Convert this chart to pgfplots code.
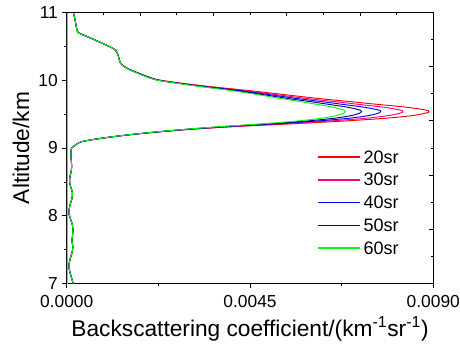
\documentclass[border=0pt]{standalone}
\usepackage{fontspec}
\setmainfont{Liberation Sans}
\usepackage{pgfplots}
\pgfplotsset{compat=1.18}
\usepackage{pgfplotstable}

\definecolor{cred}{RGB}{255,0,0}
\definecolor{cpink}{RGB}{255,0,128}
\definecolor{cblue}{RGB}{0,0,255}
\definecolor{cnavy}{RGB}{0,0,139}
\definecolor{cgreen}{RGB}{0,255,0}

% common lower part (7.0 - 9.12 km)
\pgfplotstableread{
x alt
0.00016 7.00
0.00013 7.06
0.00009 7.14
0.00006 7.22
0.00006 7.30
0.00009 7.38
0.00013 7.46
0.00015 7.54
0.00013 7.62
0.00014 7.70
0.00015 7.78
0.00014 7.86
0.00010 7.94
0.00006 8.02
0.00006 8.10
0.00009 8.18
0.00013 8.26
0.00014 8.34
0.00010 8.42
0.00007 8.50
0.00008 8.58
0.00011 8.66
0.00012 8.74
0.00011 8.82
0.00010 8.90
0.00010 8.96
0.00012 9.00
0.00018 9.03
0.00025 9.06
0.00035 9.09
0.00060 9.12
}\lowtab

% common upper part (10.25 - 11 km)
\pgfplotstableread{
x alt
0.00132 10.25
0.00129 10.30
0.00127 10.35
0.00124 10.40
0.00120 10.44
0.00113 10.47
0.00103 10.50
0.00085 10.55
0.00066 10.60
0.00047 10.65
0.00031 10.69
0.00026 10.72
0.00023 10.80
0.00020 10.90
0.00016 11.00
}\uptab

% 20 sr
\pgfplotstableread{
x alt
0.001057 9.16
0.001626 9.20
0.002323 9.24
0.003173 9.28
0.004280 9.32
0.005654 9.36
0.006887 9.40
0.007868 9.44
0.008517 9.48
0.008854 9.52
0.008892 9.54
0.008816 9.56
0.008352 9.60
0.007676 9.64
0.007018 9.68
0.006332 9.72
0.005728 9.76
0.005154 9.80
0.004410 9.85
0.003591 9.90
0.002883 9.95
0.002290 10.00
0.001998 10.05
0.001784 10.10
0.001574 10.15
0.001418 10.20
}\sA

% 30 sr
\pgfplotstableread{
x alt
0.001055 9.16
0.001618 9.20
0.002300 9.24
0.003119 9.28
0.004161 9.32
0.005419 9.36
0.006517 9.40
0.007373 9.44
0.007931 9.48
0.008219 9.52
0.008252 9.54
0.008187 9.56
0.007790 9.60
0.007206 9.64
0.006632 9.68
0.006026 9.72
0.005485 9.76
0.004966 9.80
0.004282 9.85
0.003516 9.90
0.002842 9.95
0.002268 10.00
0.001983 10.05
0.001774 10.10
0.001567 10.15
0.001412 10.20
}\sB

% 40 sr
\pgfplotstableread{
x alt
0.001053 9.16
0.001611 9.20
0.002281 9.24
0.003073 9.28
0.004061 9.32
0.005220 9.36
0.006203 9.40
0.006953 9.44
0.007436 9.48
0.007682 9.52
0.007710 9.54
0.007655 9.56
0.007314 9.60
0.006809 9.64
0.006305 9.68
0.005766 9.72
0.005280 9.76
0.004806 9.80
0.004174 9.85
0.003452 9.90
0.002806 9.95
0.002250 10.00
0.001970 10.05
0.001765 10.10
0.001560 10.15
0.001408 10.20
}\sC

% 50 sr
\pgfplotstableread{
x alt
0.001051 9.16
0.001605 9.20
0.002264 9.24
0.003034 9.28
0.003974 9.32
0.005047 9.36
0.005931 9.40
0.006590 9.44
0.007006 9.48
0.007217 9.52
0.007240 9.54
0.007193 9.56
0.006901 9.60
0.006464 9.64
0.006021 9.68
0.005541 9.72
0.005102 9.76
0.004668 9.80
0.004080 9.85
0.003397 9.90
0.002776 9.95
0.002234 10.00
0.001959 10.05
0.001757 10.10
0.001555 10.15
0.001403 10.20
}\sD

% 60 sr
\pgfplotstableread{
x alt
0.001050 9.16
0.001600 9.20
0.002250 9.24
0.003000 9.28
0.003900 9.32
0.004900 9.36
0.005700 9.40
0.006280 9.44
0.006640 9.48
0.006820 9.52
0.006840 9.54
0.006800 9.56
0.006550 9.60
0.006170 9.64
0.005780 9.68
0.005350 9.72
0.004950 9.76
0.004550 9.80
0.004000 9.85
0.003350 9.90
0.002750 9.95
0.002220 10.00
0.001950 10.05
0.001750 10.10
0.001550 10.15
0.001400 10.20
}\sE

\pgfplotstablevertcat{\fA}{\lowtab}\pgfplotstablevertcat{\fA}{\sA}\pgfplotstablevertcat{\fA}{\uptab}
\pgfplotstablevertcat{\fB}{\lowtab}\pgfplotstablevertcat{\fB}{\sB}\pgfplotstablevertcat{\fB}{\uptab}
\pgfplotstablevertcat{\fC}{\lowtab}\pgfplotstablevertcat{\fC}{\sC}\pgfplotstablevertcat{\fC}{\uptab}
\pgfplotstablevertcat{\fD}{\lowtab}\pgfplotstablevertcat{\fD}{\sD}\pgfplotstablevertcat{\fD}{\uptab}
\pgfplotstablevertcat{\fE}{\lowtab}\pgfplotstablevertcat{\fE}{\sE}\pgfplotstablevertcat{\fE}{\uptab}

\begin{document}
\begin{tikzpicture}
\begin{axis}[
  name=main,
  scale only axis, width=274.5pt, height=203.25pt,
  xmin=0, xmax=0.009, ymin=7, ymax=11,
  xtick={0,0.0045,0.009}, xticklabels={0.0000,0.0045,0.0090},
  minor xtick={0.00225,0.00675},
  ytick={7,8,9,10,11}, minor ytick={7.5,8.5,9.5,10.5},
  xtick pos=bottom, ytick pos=left,
  tick align=outside,
  major tick length=3.2pt, minor tick length=2pt,
  tick style={black, line width=0.6pt},
  scaled x ticks=false,
  /pgf/number format/assume math mode=true,
  ticklabel style={font=\fontsize{13}{15}\selectfont},
  xticklabel style={yshift=-2pt},
  xlabel={Backscattering coefficient/(km\textsuperscript{-1}sr\textsuperscript{-1})},
  ylabel={Altitude/km},
  label style={font=\fontsize{17}{20}\selectfont},
  axis line style={line width=0.6pt},
  legend cell align=left,
  legend style={draw=none, fill=none, at={(rel axis cs:0.683,0.494)}, anchor=north west,
    inner sep=0pt, row sep=4pt, font=\fontsize{13.5}{16}\selectfont,
    nodes={inner sep=0pt, inner xsep=2pt, text height=10pt, text depth=3pt}},
  legend image code/.code={\draw[#1, line width=1.1pt] (0pt,1pt) -- (31.5pt,1pt);},
  every axis plot/.append style={line width=0.7pt, smooth, tension=0.5, no markers},
]
\addplot[cred]   table[x=x,y=alt]{\fA};
\addplot[cpink]  table[x=x,y=alt]{\fB};
\addplot[cblue]  table[x=x,y=alt]{\fC};
\addplot[cnavy]  table[x=x,y=alt]{\fD};
\addplot[cgreen] table[x=x,y=alt]{\fE};
\legend{20sr,30sr,40sr,50sr,60sr}
\draw[gray!70, line width=1.3pt] (rel axis cs:0,0) -- (rel axis cs:0,1);
\coordinate (bl) at (rel axis cs:0,0);
\coordinate (tr) at (rel axis cs:1,1);
\end{axis}
\begin{axis}[
  scale only axis, width=274.5pt, height=203.25pt,
  xmin=0, xmax=0.009, ymin=7, ymax=11,
  axis x line*=top, axis y line*=right,
  axis line style={-, line width=0.6pt},
  xtick={0.0018,0.0036,0.0054,0.0072},
  minor xtick={0.0009,0.0027,0.0045,0.0063,0.0081},
  ytick={7.8,8.6,9.4,10.2},
  minor ytick={7.4,8.2,9.0,9.8,10.6},
  xticklabels={}, yticklabels={},
  tick align=inside,
  major tick length=3pt, minor tick length=1.8pt,
  tick style={black, line width=0.6pt},
  scaled x ticks=false, scaled y ticks=false,
]
\end{axis}
\pgfresetboundingbox
\path[use as bounding box] ([xshift=-50pt,yshift=-51.75pt]bl) rectangle ([xshift=20pt,yshift=9.2pt]tr);
\end{tikzpicture}
\end{document}
